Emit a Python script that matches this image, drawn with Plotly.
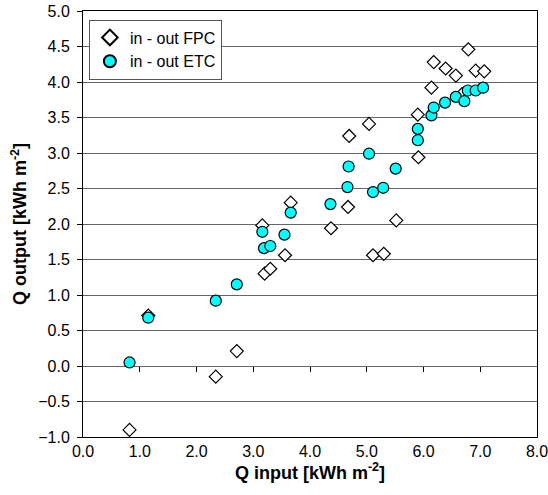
import plotly.graph_objects as go

fpc_x = [0.82, 1.15, 2.34, 2.71, 3.16, 3.20, 3.30, 3.56, 3.66, 4.37, 4.67, 4.69, 5.04,
         5.11, 5.30, 5.52, 5.90, 5.91, 6.14, 6.18, 6.39, 6.57, 6.68, 6.79, 6.92, 7.07]
fpc_y = [-0.90, 0.71, -0.15, 0.21, 1.98, 1.30, 1.37, 1.56, 2.30, 1.94, 2.24, 3.24, 3.41,
         1.56, 1.58, 2.05, 3.54, 2.94, 3.92, 4.28, 4.19, 4.09, 3.83, 4.46, 4.16, 4.15]

etc_x = [0.82, 1.15, 2.34, 2.71, 3.16, 3.19, 3.30, 3.55, 3.66, 4.36, 4.66, 4.68, 5.04,
         5.11, 5.29, 5.51, 5.90, 5.90, 6.14, 6.18, 6.38, 6.57, 6.72, 6.78, 6.92, 7.05]
etc_y = [0.05, 0.68, 0.92, 1.15, 1.89, 1.66, 1.69, 1.85, 2.16, 2.28, 2.52, 2.81, 2.99,
         2.45, 2.51, 2.78, 3.34, 3.18, 3.53, 3.64, 3.71, 3.79, 3.73, 3.88, 3.88, 3.92]

x_ticks = [0, 1, 2, 3, 4, 5, 6, 7, 8]
inner_ticks = [1, 2, 3, 4, 5, 6, 7]

FONT = "Liberation Sans, Arial, sans-serif"

fig = go.Figure()
fig.add_trace(go.Scatter(
    x=fpc_x, y=fpc_y, mode="markers", name="in - out FPC",
    marker=dict(symbol="diamond", size=10, color="white",
                line=dict(color="black", width=1.2)),
))
fig.add_trace(go.Scatter(
    x=etc_x, y=etc_y, mode="markers", name="in - out ETC",
    marker=dict(symbol="circle", size=11, color="#00FFFF",
                line=dict(color="black", width=1.2)),
))
# dummy trace to host the tick axis at y = 0
fig.add_trace(go.Scatter(x=[None], y=[None], xaxis="x2", showlegend=False,
                         hoverinfo="skip"))

fig.update_layout(
    width=548, height=495,
    margin=dict(l=83, r=11, t=11, b=58, autoexpand=False),
    paper_bgcolor="white", plot_bgcolor="white",
    font=dict(family=FONT, size=16, color="black"),
    showlegend=True,
    legend=dict(x=0.013, y=0.98, xanchor="left", yanchor="top",
                bgcolor="white", bordercolor="#555", borderwidth=1,
                font=dict(size=16, family=FONT), tracegroupgap=0,
                itemwidth=30, itemsizing="constant"),
    xaxis=dict(
        range=[0, 8], tickvals=x_ticks, tickformat=".1f", automargin=False,
        ticklabeloverflow="allow",
        showgrid=False, zeroline=False, ticks="",
        showline=True, linecolor="black", linewidth=1, mirror=True,
        tickfont=dict(size=16, family=FONT),
        title=dict(text="Q input [kWh m<sup>-2</sup>]",
                   font=dict(size=18, family=FONT, weight="bold"), standoff=6),
    ),
    xaxis2=dict(
        range=[0, 8], overlaying="x", anchor="free", position=1/6,
        tickvals=inner_ticks, ticks="outside", ticklen=5, tickcolor="black",
        showticklabels=False, showgrid=False, zeroline=False, showline=False,
        automargin=False,
    ),
    yaxis=dict(
        range=[-1, 5], dtick=0.5, tick0=0, tickformat=".1f", automargin=False,
        ticklabeloverflow="allow",
        showgrid=True, gridcolor="#666666", gridwidth=1, zeroline=False,
        ticks="outside", ticklen=5, tickcolor="black", ticklabelstandoff=4,
        showline=True, linecolor="black", linewidth=1, mirror=True,
        tickfont=dict(size=16, family=FONT),
        title=dict(text="Q output [kWh m<sup>-2</sup>]",
                   font=dict(size=18, family=FONT, weight="bold"), standoff=6),
    ),
)

fig.write_html("out.html")
